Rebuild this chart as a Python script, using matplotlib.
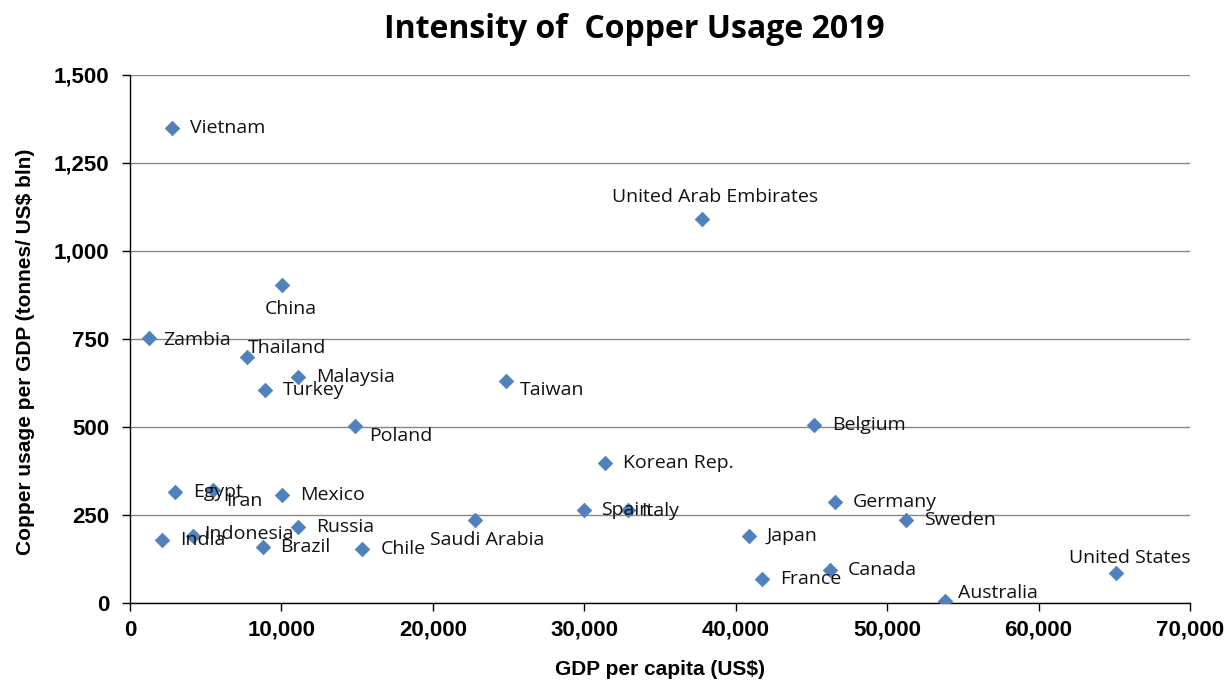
import matplotlib
matplotlib.use("Agg")
import matplotlib.pyplot as plt
from matplotlib.ticker import FuncFormatter, MultipleLocator

countries = ["Vietnam", "United Arab Embirates", "China", "Zambia", "Thailand",
             "Malaysia", "Turkey", "Taiwan", "Poland", "Belgium", "Korean Rep.",
             "Egypt", "Iran", "Mexico", "Indonesia", "India", "Russia", "Brazil",
             "Chile", "Saudi Arabia", "Spain", "Italy", "Germany", "Sweden",
             "Japan", "France", "Canada", "Australia", "United States"]
gdp_per_capita = [2770, 37780, 10060, 1280, 7750, 11090, 8930, 24800, 14880, 45180,
                  31400, 3000, 5450, 10070, 4130, 2130, 11120, 8750, 15350, 22800,
                  29950, 32900, 46550, 51250, 40850, 41750, 46200, 53850, 65100]
copper_intensity = [1350, 1090, 902, 752, 698, 643, 606, 632, 503, 506,
                    397, 315, 322, 306, 190, 180, 217, 160, 152, 237,
                    265, 265, 286, 237, 189, 67, 94, 7, 86]

# label placement: (dx px, dy px, horizontal alignment)
default_off = (18, 0, "left")
special_off = {
    "United Arab Embirates": (13, -22, "center"),
    "China": (8, 24, "center"),
    "Zambia": (14, 2, "left"),
    "Thailand": (1, -9, "left"),
    "Taiwan": (14, 9, "left"),
    "Poland": (14, 10, "left"),
    "Iran": (14, 11, "left"),
    "Indonesia": (12, -2, "left"),
    "Saudi Arabia": (12, 20, "center"),
    "Italy": (13, 1, "left"),
    "Australia": (13, -8, "left"),
    "United States": (14, -15, "center"),
}

DPI = 100
fig = plt.figure(figsize=(12.27, 6.84), dpi=DPI)
ax = fig.add_axes([130/1227, 81/684, 1060/1227, 528/684])

ax.scatter(gdp_per_capita, copper_intensity, marker="D", s=55, color="#4F81BD",
           edgecolors="#4A7EBB", linewidths=0.5, zorder=3)

for name, xv, yv in zip(countries, gdp_per_capita, copper_intensity):
    dx, dy, ha = special_off.get(name, default_off)
    ax.annotate(name, (xv, yv), xytext=(dx, -dy), textcoords="offset pixels",
                ha=ha, va="center", fontsize=14, family="Open Sans", color="#111111",
                zorder=4)

ax.set_xlim(0, 70000)
ax.set_ylim(0, 1500)
ax.xaxis.set_major_locator(MultipleLocator(10000))
ax.yaxis.set_major_locator(MultipleLocator(250))
fmt = FuncFormatter(lambda v, p: f"{int(v):,}")
ax.xaxis.set_major_formatter(fmt)
ax.yaxis.set_major_formatter(fmt)

ax.grid(axis="y", color="#878787", linewidth=1.0, zorder=0)
ax.set_axisbelow(True)
for s in ["top", "right"]:
    ax.spines[s].set_visible(False)
for s in ["left", "bottom"]:
    ax.spines[s].set_color("black")
    ax.spines[s].set_linewidth(1.0)

ax.tick_params(axis="both", direction="out", length=6, width=1, color="black")
for lab in ax.get_xticklabels() + ax.get_yticklabels():
    lab.set_fontfamily("Liberation Sans")
    lab.set_fontweight("bold")
    lab.set_fontsize(16)
ax.tick_params(axis="x", pad=6)
ax.tick_params(axis="y", pad=9)

ax.set_xlabel("GDP per capita (US$)", fontsize=15, fontweight="bold",
              family="Liberation Sans", labelpad=14)
ax.set_ylabel("Copper usage per GDP (tonnes/ US$ bln)", fontsize=15,
              fontweight="bold", family="Liberation Sans")
ax.yaxis.set_label_coords(-0.09, 0.475)

fig.text(634/1227, 1 - 30/684, "Intensity of  Copper Usage 2019", ha="center",
         va="center", fontsize=23, fontweight="bold", family="Open Sans")

fig.savefig("out.png", dpi=DPI, facecolor="white")
